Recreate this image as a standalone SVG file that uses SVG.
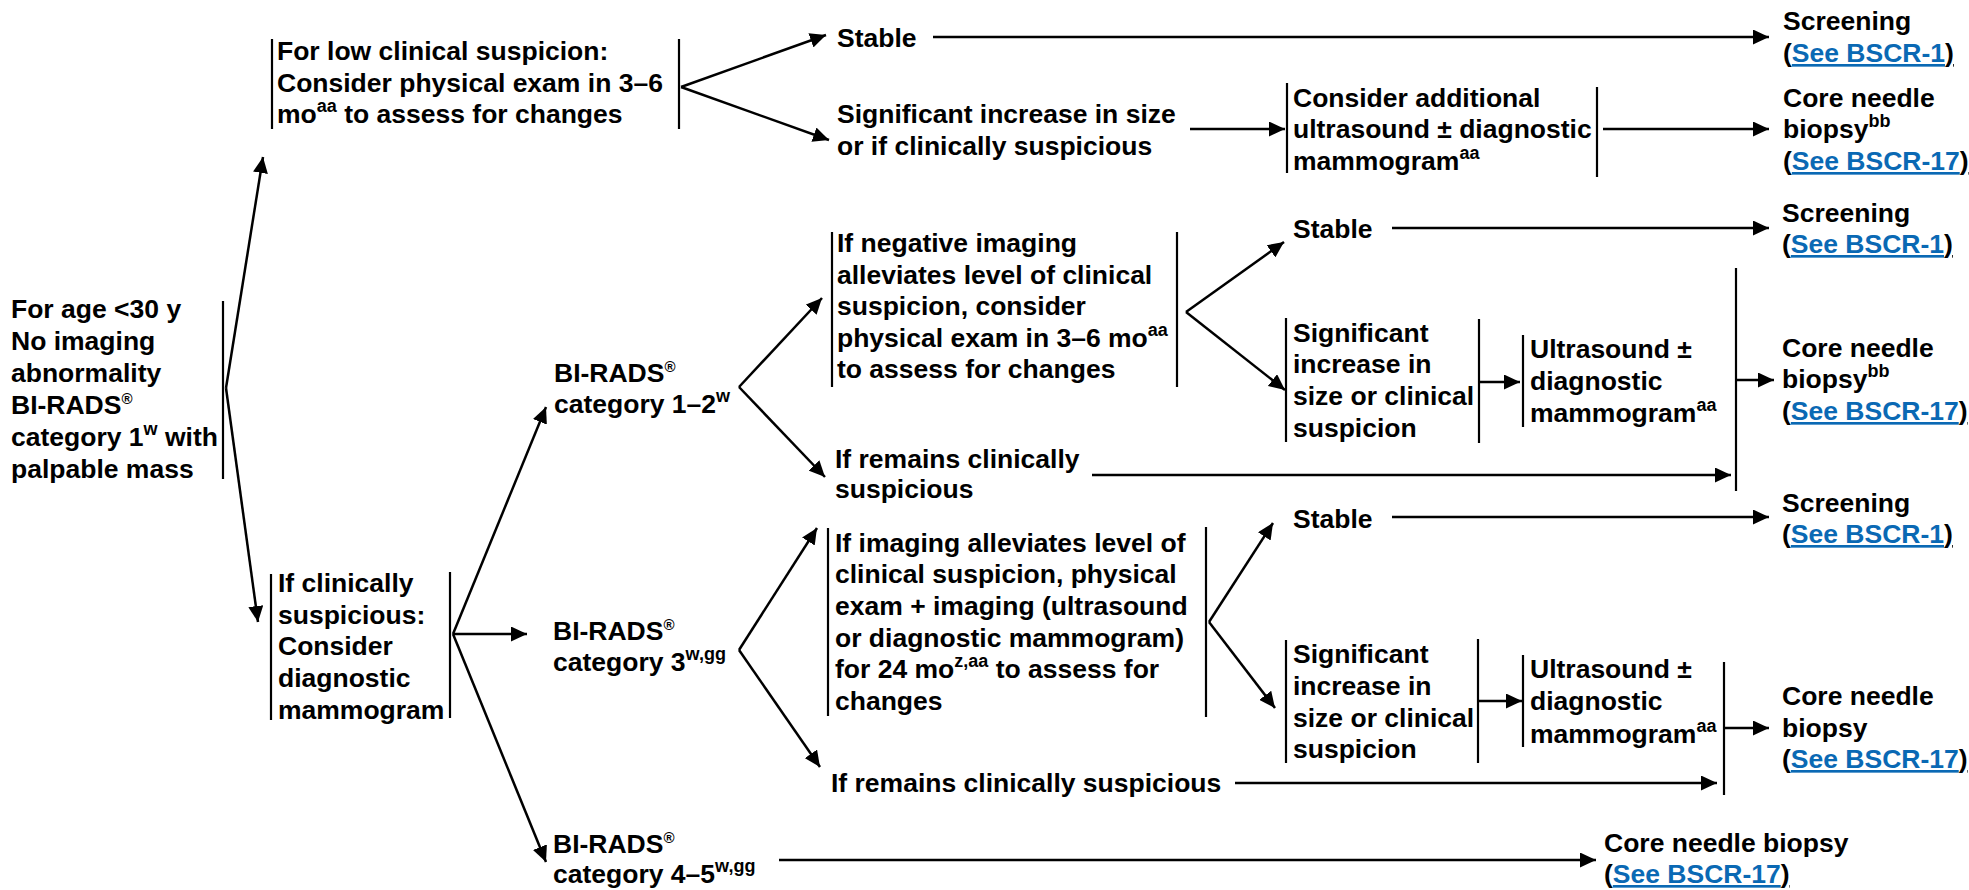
<svg xmlns="http://www.w3.org/2000/svg" width="1969" height="890" viewBox="0 0 1969 890">
<defs>
<style>
.t{font-family:"Liberation Sans",Arial,Helvetica,sans-serif;font-weight:bold;font-size:26.5px;fill:#000}
.s{font-size:18px}
.r{font-size:15px}
.lk{fill:#0a69b4;text-decoration:underline}
.ul{text-decoration:underline}
.ln{stroke:#000;stroke-width:2.5;fill:none}
.bar{stroke:#000;stroke-width:2.2;fill:none}
.a{marker-end:url(#ah)}
</style>
<marker id="ah" markerUnits="userSpaceOnUse" markerWidth="17" markerHeight="15" refX="16" refY="7.5" orient="auto">
<path d="M0,0 L16,7.5 L0,15 z" fill="#000"/>
</marker>
</defs>
<rect width="1969" height="890" fill="#fff"/>

<g id="connectors">
<path class="ln a" d="M226,388 L263,157"/>
<path class="ln a" d="M226,388 L258,622"/>
<path class="ln a" d="M681,87 L826,35"/>
<path class="ln a" d="M681,87 L829,140"/>
<path class="ln a" d="M933,37 L1769,37"/>
<path class="ln a" d="M1190,129 L1285,129"/>
<path class="ln a" d="M1603,129 L1769,129"/>
<path class="ln a" d="M453,634 L546,407"/>
<path class="ln a" d="M453,634 L527,634"/>
<path class="ln a" d="M453,634 L546,862"/>
<path class="ln a" d="M739,387 L822,298"/>
<path class="ln a" d="M739,387 L825,477"/>
<path class="ln a" d="M1186,312 L1284,242"/>
<path class="ln a" d="M1186,312 L1285,390"/>
<path class="ln a" d="M1392,228 L1769,228"/>
<path class="ln a" d="M1479,382 L1520,382"/>
<path class="ln a" d="M1092,475 L1731,475"/>
<path class="ln a" d="M1736,380 L1774,380"/>
<path class="ln a" d="M739,650 L817,528"/>
<path class="ln a" d="M739,650 L820,767"/>
<path class="ln a" d="M1209,622 L1273,523"/>
<path class="ln a" d="M1209,622 L1275,708"/>
<path class="ln a" d="M1392,517 L1769,517"/>
<path class="ln a" d="M1478,701 L1522,701"/>
<path class="ln a" d="M1235,783 L1717,783"/>
<path class="ln a" d="M1724,728 L1769,728"/>
<path class="ln a" d="M779,860 L1596,860"/>
</g>

<g id="root">
<line class="bar" x1="223" y1="301" x2="223" y2="479"/>
<text class="t" x="11" y="318">For age &lt;30 y</text>
<text class="t" x="11" y="350">No imaging</text>
<text class="t" x="11" y="382">abnormality</text>
<text class="t" x="11" y="414">BI-RADS<tspan class="r" dy="-10">®</tspan></text>
<text class="t" x="11" y="446">category 1<tspan class="s" dy="-11">w</tspan><tspan dy="11"> with</tspan></text>
<text class="t" x="11" y="478">palpable mass</text>
</g>

<g id="low-suspicion">
<line class="bar" x1="272" y1="39" x2="272" y2="129"/>
<line class="bar" x1="679" y1="39" x2="679" y2="129"/>
<text class="t" x="277" y="60">For low clinical suspicion:</text>
<text class="t" x="277" y="92">Consider physical exam in 3–6</text>
<text class="t" x="277" y="123">mo<tspan class="s" dy="-11">aa</tspan><tspan dy="11"> to assess for changes</tspan></text>
</g>

<g id="clin-suspicious">
<line class="bar" x1="271" y1="574" x2="271" y2="720"/>
<line class="bar" x1="450" y1="572" x2="450" y2="718"/>
<text class="t" x="278" y="592">If clinically</text>
<text class="t" x="278" y="624">suspicious:</text>
<text class="t" x="278" y="655">Consider</text>
<text class="t" x="278" y="687">diagnostic</text>
<text class="t" x="278" y="719">mammogram</text>
</g>

<g id="birads12">
<text class="t" x="554" y="382">BI-RADS<tspan class="r" dy="-10">®</tspan></text>
<text class="t" x="554" y="413">category 1–2<tspan class="s" dy="-11">w</tspan></text>
</g>
<g id="birads3">
<text class="t" x="553" y="640">BI-RADS<tspan class="r" dy="-10">®</tspan></text>
<text class="t" x="553" y="671">category 3<tspan class="s" dy="-11">w,gg</tspan></text>
</g>
<g id="birads45">
<text class="t" x="553" y="853">BI-RADS<tspan class="r" dy="-10">®</tspan></text>
<text class="t" x="553" y="883">category 4–5<tspan class="s" dy="-11">w,gg</tspan></text>
</g>

<g id="stable1"><text class="t" x="837" y="47">Stable</text></g>
<g id="sig-increase1">
<text class="t" x="837" y="123">Significant increase in size</text>
<text class="t" x="837" y="155">or if clinically suspicious</text>
</g>
<g id="consider-us">
<line class="bar" x1="1287" y1="83" x2="1287" y2="173"/>
<line class="bar" x1="1597" y1="87" x2="1597" y2="177"/>
<text class="t" x="1293" y="107">Consider additional</text>
<text class="t" x="1293" y="138">ultrasound ± diagnostic</text>
<text class="t" x="1293" y="170">mammogram<tspan class="s" dy="-11">aa</tspan></text>
</g>
<g id="screening1">
<text class="t" x="1783" y="30">Screening</text>
<text class="t" x="1783" y="62"><tspan class="ul">(</tspan><tspan class="lk">See BSCR-1</tspan><tspan class="ul">)</tspan></text>
</g>
<g id="core1">
<text class="t" x="1783" y="107">Core needle</text>
<text class="t" x="1783" y="138">biopsy<tspan class="s" dy="-11">bb</tspan></text>
<text class="t" x="1783" y="170"><tspan class="ul">(</tspan><tspan class="lk">See BSCR-17</tspan><tspan class="ul">)</tspan></text>
</g>

<g id="neg-imaging">
<line class="bar" x1="832" y1="232" x2="832" y2="387"/>
<line class="bar" x1="1177" y1="232" x2="1177" y2="387"/>
<text class="t" x="837" y="252">If negative imaging</text>
<text class="t" x="837" y="284">alleviates level of clinical</text>
<text class="t" x="837" y="315">suspicion, consider</text>
<text class="t" x="837" y="347">physical exam in 3–6 mo<tspan class="s" dy="-11">aa</tspan></text>
<text class="t" x="837" y="378">to assess for changes</text>
</g>
<g id="stable2"><text class="t" x="1293" y="238">Stable</text></g>
<g id="screening2">
<text class="t" x="1782" y="222">Screening</text>
<text class="t" x="1782" y="253"><tspan class="ul">(</tspan><tspan class="lk">See BSCR-1</tspan><tspan class="ul">)</tspan></text>
</g>
<g id="sig-increase2">
<line class="bar" x1="1286" y1="318" x2="1286" y2="442"/>
<line class="bar" x1="1479" y1="319" x2="1479" y2="443"/>
<text class="t" x="1293" y="342">Significant</text>
<text class="t" x="1293" y="373">increase in</text>
<text class="t" x="1293" y="405">size or clinical</text>
<text class="t" x="1293" y="437">suspicion</text>
</g>
<g id="us-mammo1">
<line class="bar" x1="1523" y1="335" x2="1523" y2="427"/>
<text class="t" x="1530" y="358">Ultrasound ±</text>
<text class="t" x="1530" y="390">diagnostic</text>
<text class="t" x="1530" y="422">mammogram<tspan class="s" dy="-11">aa</tspan></text>
</g>
<g id="join1"><line class="bar" x1="1736" y1="268" x2="1736" y2="491"/></g>
<g id="core2">
<text class="t" x="1782" y="357">Core needle</text>
<text class="t" x="1782" y="388">biopsy<tspan class="s" dy="-11">bb</tspan></text>
<text class="t" x="1782" y="420"><tspan class="ul">(</tspan><tspan class="lk">See BSCR-17</tspan><tspan class="ul">)</tspan></text>
</g>
<g id="remains1">
<text class="t" x="835" y="468">If remains clinically</text>
<text class="t" x="835" y="498">suspicious</text>
</g>

<g id="imaging-alleviates">
<line class="bar" x1="828" y1="528" x2="828" y2="716"/>
<line class="bar" x1="1206" y1="527" x2="1206" y2="717"/>
<text class="t" x="835" y="552">If imaging alleviates level of</text>
<text class="t" x="835" y="583">clinical suspicion, physical</text>
<text class="t" x="835" y="615">exam + imaging (ultrasound</text>
<text class="t" x="835" y="647">or diagnostic mammogram)</text>
<text class="t" x="835" y="678">for 24 mo<tspan class="s" dy="-11">z,aa</tspan><tspan dy="11"> to assess for</tspan></text>
<text class="t" x="835" y="710">changes</text>
</g>
<g id="stable3"><text class="t" x="1293" y="528">Stable</text></g>
<g id="screening3">
<text class="t" x="1782" y="512">Screening</text>
<text class="t" x="1782" y="543"><tspan class="ul">(</tspan><tspan class="lk">See BSCR-1</tspan><tspan class="ul">)</tspan></text>
</g>
<g id="sig-increase3">
<line class="bar" x1="1286" y1="640" x2="1286" y2="763"/>
<line class="bar" x1="1478" y1="639" x2="1478" y2="763"/>
<text class="t" x="1293" y="663">Significant</text>
<text class="t" x="1293" y="695">increase in</text>
<text class="t" x="1293" y="727">size or clinical</text>
<text class="t" x="1293" y="758">suspicion</text>
</g>
<g id="us-mammo2">
<line class="bar" x1="1523" y1="655" x2="1523" y2="747"/>
<text class="t" x="1530" y="678">Ultrasound ±</text>
<text class="t" x="1530" y="710">diagnostic</text>
<text class="t" x="1530" y="743">mammogram<tspan class="s" dy="-11">aa</tspan></text>
</g>
<g id="join2"><line class="bar" x1="1724" y1="662" x2="1724" y2="795"/></g>
<g id="core3">
<text class="t" x="1782" y="705">Core needle</text>
<text class="t" x="1782" y="737">biopsy</text>
<text class="t" x="1782" y="768"><tspan class="ul">(</tspan><tspan class="lk">See BSCR-17</tspan><tspan class="ul">)</tspan></text>
</g>
<g id="remains2"><text class="t" x="831" y="792">If remains clinically suspicious</text></g>
<g id="core4">
<text class="t" x="1604" y="852">Core needle biopsy</text>
<text class="t" x="1604" y="883"><tspan class="ul">(</tspan><tspan class="lk">See BSCR-17</tspan><tspan class="ul">)</tspan></text>
</g>
</svg>
